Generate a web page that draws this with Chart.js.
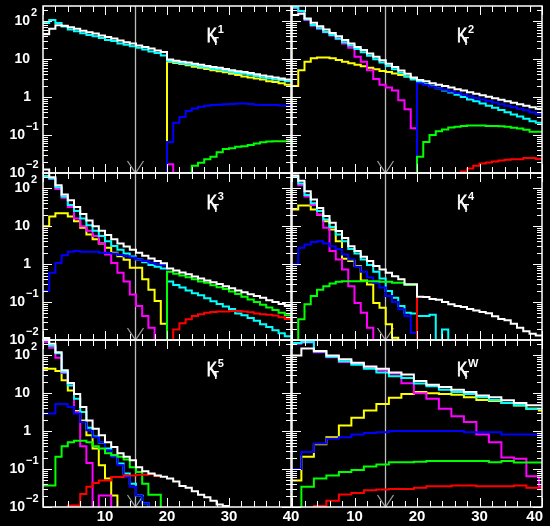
<!DOCTYPE html>
<html>
<head>
<meta charset="utf-8">
<script src="https://cdn.jsdelivr.net/npm/chart.js"></script>
<style>
  html, body { margin: 0; padding: 0; background: #000; }
  #wrap { position: relative; width: 550px; height: 526px; overflow: hidden; background: #000; }
  #wrap canvas { position: absolute; }
</style>
</head>
<body>
<div id="wrap"></div>
<script>
// bin left edges (1 unit wide) for panels 1-5, 2-unit bins for the last panel
const bins = [0,1,2,3,4,5,6,7,8,9,10,11,12,13,14,15,16,17,18,19,20,21,22,23,24,25,26,27,28,29,30,31,32,33,34,35,36,37,38,39];
const k6Edges = [0,1.5,3.5,5.5,7.5,9.5,11.5,13.5,15.5,17.5,19.5,21.5,23.5,25.5,27.5,29.5,31.5,33.5,35.5,37.5,39.5];
const xEnd = 40;

// K_T^1
const k1White = [45,63,78,76,69,63,56,51,47,42, 38,35,31,28,26,23,21,19,17,15.5, 9.8,9.1,8.5,8.1,7.6,7.1,6.6,6.2,5.9,5.5, 5.1,4.8,4.6,4.3,4.0,3.7,3.5,3.3,3.1,2.9];
const k1Cyan = [89,107,89,72,60,54,48,43,40,36, 32,30,26,24,22,20,18,16,14.5,12.5, 8.9,8.3,7.7,7.3,6.9,6.4,6.0,5.6,5.3,5.0, 4.6,4.3,4.1,3.9,3.6,3.3,3.1,2.9,2.8,2.6];
const k1Yellow = [0,0,0,0,0,0,0,0,0,0, 0,0,0,0,0,0,0,0,0,0, 8.5,7.9,7.4,6.9,6.3,5.9,5.5,5.1,4.8,4.5, 4.1,3.8,3.5,3.3,3.1,2.9,2.6,2.5,2.3,2.1];
const k1Magenta = [0,0,0,0,0,0,0,0,0,0, 0,0,0,0,0,0,0,0,0,0, 0.017,0,0,0,0,0,0,0,0,0, 0,0,0,0,0,0,0,0,0,0];
const k1Blue = [0,0,0,0,0,0,0,0,0,0, 0,0,0,0,0,0,0,0,0,0, 0.066,0.21,0.30,0.43,0.50,0.56,0.59,0.62,0.63,0.65, 0.66,0.68,0.68,0.66,0.63,0.62,0.62,0.62,0.60,0.59];
const k1Green = [0,0,0,0,0,0,0,0,0,0, 0,0,0,0,0,0,0,0,0,0, 0,0,0,0,0.0155,0.0186,0.023,0.027,0.035,0.043, 0.045,0.049,0.051,0.055,0.060,0.065,0.068,0.069,0.069,0.069];

// K_T^2
const k2White = [145,158,117,91,74,60,49,40,32,26, 21,17.4,14.1,11.5,9.3,7.6,6.2,5.0,4.1,3.3, 2.8,2.6,2.3,2.1,1.95,1.78,1.62,1.48,1.35,1.23, 1.12,1.02,0.93,0.85,0.78,0.71,0.65,0.59,0.54,0.49];
const k2Cyan = [229,186,112,79,65,52,43,35,28,23, 18.6,15.1,12.3,10,8.1,6.6,5.4,4.4,3.5,2.9, 2.5,2.2,1.95,1.7,1.48,1.32,1.15,1.0,0.87,0.78, 0.68,0.59,0.52,0.46,0.40,0.35,0.31,0.27,0.23,0.21];
const k2Yellow = [1.95,5.1,8.5,10.5,11,11,10.5,9.5,8.5,7.8, 7.1,6.5,5.9,5.4,4.9,4.6,4.2,3.8,3.5,3.2, 0,0,0,0,0,0,0,0,0,0, 0,0,0,0,0,0,0,0,0,0];
const k2Magenta = [225,180,108,76,63,51,42,34,26,20, 11.5,8.5,5.1,3.0,2.1,1.78,1.5,0.83,0.48,0.15, 0,0,0,0,0,0,0,0,0,0, 0,0,0,0,0,0,0,0,0,0];
const k2Blue = [0,0,0,0,0,0,0,0,0,0, 0,0,0,0,0,0,0,0,0,0, 2.3,2.1,1.9,1.7,1.55,1.41,1.29,1.17,1.05,0.95, 0.87,0.79,0.72,0.65,0.59,0.54,0.49,0.45,0.40,0.36];
const k2Green = [0,0,0,0,0,0,0,0,0,0, 0,0,0,0,0,0,0,0,0,0, 0.027,0.066,0.1,0.126,0.141,0.158,0.166,0.174,0.178,0.178, 0.178,0.174,0.174,0.17,0.166,0.155,0.148,0.138,0.123,0.123];
const k2Red = [0,0,0,0,0,0,0,0,0,0, 0,0,0,0,0,0,0,0,0,0, 0,0,0,0,0,0,0,0.011,0.0132,0.0155, 0.0178,0.019,0.02,0.0214,0.0224,0.0229,0.0229,0.025,0.025,0.0234];

// K_T^3
const k3White = [310,195,120,68,48,32,21,14.1,10,7.6, 5.8,4.5,3.5,2.9,2.4,2.0,1.66,1.41,1.2,1.05, 0.76,0.68,0.6,0.54,0.47,0.42,0.37,0.33,0.3,0.26, 0.23,0.2,0.18,0.16,0.145,0.129,0.112,0.1,0.089,0.079];
const k3Cyan = [210,180,105,60,36,25,15.8,10.5,7.6,5.5, 4.0,3.0,2.4,1.9,1.58,1.32,1.12,0.95,0.85,0.76, 0.35,0.28,0.24,0.2,0.17,0.15,0.126,0.105,0.089,0.076, 0.066,0.05,0.045,0.038,0.032,0.026,0.022,0.018,0.015,0.0126];
const k3Yellow = [10,18,22,22,18,13.5,9,6,4.5,3.5, 2.7,2.0,1.6,1.3,0.8,0.8,0.4,0.21,0.107,0.027, 0,0,0,0,0,0,0,0,0,0, 0,0,0,0,0,0,0,0,0,0];
const k3Magenta = [205,178,95,56,32,16,10,7.5,5.5,3.5, 1.78,1.07,0.59,0.35,0.158,0.079,0.043,0.021,0,0, 0,0,0,0,0,0,0,0,0,0, 0,0,0,0,0,0,0,0,0,0];
const k3Blue = [0.195,0.59,1.07,1.7,2.1,2.2,2.1,2.1,2.1,2.0, 1.95,1.9,1.74,1.62,1.48,1.32,1.2,1.1,1.0,0.93, 0,0,0,0,0,0,0,0,0,0, 0,0,0,0,0,0,0,0,0,0];
const k3Green = [0,0,0,0,0,0,0,0,0,0, 0,0,0,0,0,0,0,0,0,0, 0.63,0.56,0.5,0.45,0.4,0.35,0.32,0.275,0.245,0.22, 0.19,0.162,0.138,0.117,0.1,0.085,0.072,0.062,0.052,0.045];
const k3Red = [0,0,0,0,0,0,0,0,0,0, 0,0,0,0,0,0,0,0,0,0, 0,0.019,0.0275,0.035,0.043,0.048,0.052,0.055,0.056,0.056, 0.058,0.058,0.056,0.054,0.05,0.048,0.046,0.044,0.04,0.036];

// K_T^4
const k4White = [215,158,83,50,30,18.6,12.3,7.4,4.9,2.95, 2.2,1.55,1.2,0.89,0.72,0.59,0.48,0.4,0.295,0.295, 0.138,0.135,0.12,0.115,0.1,0.087,0.079,0.074,0.066,0.06, 0.055,0.051,0.042,0.036,0.033,0.027,0.021,0.017,0.0145,0.0132];
const k4Cyan = [205,132,66,40,25,15,9.5,6.0,4.0,2.5, 1.9,1.32,0.95,0.63,0.42,0.195,0.129,0.079,0.052,0.05, 0.043,0.043,0.046,0,0.019,0,0,0,0,0, 0,0,0,0,0,0,0,0,0,0];
const k4Yellow = [27.5,35,35,27.5,20,13.5,8.1,4.0,1.38,1.2, 0.89,0.37,0.29,0.095,0.071,0.026,0.0115,0,0,0, 0,0,0,0,0,0,0,0,0,0, 0,0,0,0,0,0,0,0,0,0];
const k4Magenta = [200,120,60,36,20,9.1,2.2,1.32,0.72,0.26, 0.095,0.052,0.021,0,0,0,0,0,0,0, 0,0,0,0,0,0,0,0,0,0, 0,0,0,0,0,0,0,0,0,0];
const k4Blue = [0.98,2.7,3.3,3.8,4.0,3.5,2.95,2.5,1.78,1.32, 0.85,0.63,0.44,0.32,0.24,0.145,0.1,0.065,0.043,0.0155, 0,0,0,0,0,0,0,0,0,0, 0,0,0,0,0,0,0,0,0,0];
const k4Green = [0,0.035,0.087,0.145,0.21,0.26,0.31,0.34,0.355,0.355, 0.355,0.355,0.355,0.355,0.34,0.34,0.32,0.32,0.28,0.28, 0,0,0,0,0,0,0,0,0,0, 0,0,0,0,0,0,0,0,0,0];
const k4Red = [0,0,0,0,0,0,0,0,0,0, 0,0,0,0,0,0,0,0,0,0, 0.138,0.135,0.12,0.115,0.1,0.087,0.079,0.074,0.066,0.06, 0.055,0.051,0.042,0.036,0.033,0.027,0.021,0.017,0.0145,0.0132];

// K_T^5
const k5White = [282,200,120,40,18.6,9.5,4.3,1.9,1.15,0.78, 0.51,0.38,0.26,0.21,0.17,0.112,0.087,0.076,0.068,0.063, 0.056,0.047,0.036,0.032,0.026,0.021,0.018,0.0145,0.0117,0.0107, 0,0,0,0,0,0,0,0,0,0];
const k5Cyan = [250,178,112,36,15.8,7.1,3.2,1.23,0.72,0.5, 0.35,0.23,0.141,0.076,0.041,0.02,0.0126,0,0,0, 0,0,0,0,0,0,0,0,0,0, 0,0,0,0,0,0,0,0,0,0];
const k5Yellow = [44,44,38,22,11.7,3.4,1.9,0.78,0.35,0.126, 0.056,0.02,0,0,0,0,0,0,0,0, 0,0,0,0,0,0,0,0,0,0, 0,0,0,0,0,0,0,0,0,0];
const k5Magenta = [224,158,85,34,17.8,3.2,0.4,0.145,0,0.02, 0.02,0,0,0,0,0,0,0,0,0, 0,0,0,0,0,0,0,0,0,0, 0,0,0,0,0,0,0,0,0,0];
const k5Blue = [2.9,2.9,5.2,5.2,4.3,2.9,1.74,1.05,0.69,0.51, 0.31,0.21,0.126,0.062,0.034,0.02,0.0126,0,0,0, 0,0,0,0,0,0,0,0,0,0, 0,0,0,0,0,0,0,0,0,0];
const k5Green = [0.037,0.037,0.21,0.4,0.51,0.56,0.56,0.51,0.4,0.35, 0.26,0.23,0.21,0.178,0.112,0.083,0.041,0.021,0.021,0, 0,0,0,0,0,0,0,0,0,0, 0,0,0,0,0,0,0,0,0,0];
const k5Red = [0,0,0,0,0.011,0.011,0.022,0.034,0.043,0.05, 0.05,0.062,0.062,0.068,0.068,0.071,0.071,0.074,0.066,0.063, 0.056,0.047,0.036,0.032,0.026,0.021,0.018,0.0145,0.0117,0.0107, 0,0,0,0,0,0,0,0,0,0];

// K_T^W (2-unit bins)
const k6White = [98,151,128,98,78,63,50,44,35,31,21,16.6,14.5,12.3,10.7,8.7,7.8,6.5,5.5,4.8,4.8];
const k6Cyan = [209,224,125,91,69,56,44,35,28,25,17.8,15.1,12.3,10.7,9.5,7.8,6.6,5.5,4.8,3.9,3.9];
const k6Yellow = [0.05,0.21,0.45,0.69,1.41,2.24,3.5,5.2,7.6,9.5,10.7,10,9.5,9.1,7.8,6.6,6.2,5.5,4.7,3.9,3.5];
const k6Magenta = [200,215,120,88,66,60,46,40,33,18.2,10,7.1,3.9,2.45,1.74,0.81,0.51,0.2,0.186,0.065,0.034];
const k6Blue = [0.1,0.28,0.47,0.63,0.69,0.81,0.89,0.93,1.0,1.0,1.0,1.0,1.0,1.0,0.93,0.93,0.93,0.81,0.81,0.81,0.81];
const k6Green = [0,0.034,0.056,0.068,0.083,0.095,0.117,0.132,0.151,0.151,0.155,0.162,0.162,0.162,0.162,0.162,0.151,0.162,0.148,0.148,0.148];
const k6Red = [0,0,0.0107,0.0145,0.0214,0.0234,0.0275,0.029,0.03,0.03,0.032,0.035,0.035,0.037,0.037,0.035,0.035,0.035,0.037,0.032,0.032];

// axes
const yBottom = 0.01;
const yTop = 251;
const yLabelValues = [100, 10, 1, 0.1, 0.01];
const yLabelBase = ['10', '10', '1', '10', '10'];
const yLabelExp = ['2', '', '', '\u22121', '\u22122'];
const xLabelValues = [10, 20, 30, 40];
const xTickValues = [0,2,4,6,8,10,12,14,16,18,20,22,24,26,28,30,32,34,36,38,40];
const cutX = 14.8;
const titleX = 26.4;

const colors = {
  white: '#ffffff', cyan: '#00ffff', yellow: '#ffff00', magenta: '#ff00ff',
  blue: '#0000ff', green: '#00ff00', red: '#ff0000'
};
// first entry ends up on top
const drawOrder = ['white', 'red', 'green', 'blue', 'cyan', 'magenta', 'yellow'];

const panels = [
  { title: '1', col: 0, row: 0, edges: bins,
    series: { white: k1White, cyan: k1Cyan, yellow: k1Yellow, magenta: k1Magenta, blue: k1Blue, green: k1Green } },
  { title: '2', col: 1, row: 0, edges: bins,
    series: { white: k2White, cyan: k2Cyan, yellow: k2Yellow, magenta: k2Magenta, blue: k2Blue, green: k2Green, red: k2Red } },
  { title: '3', col: 0, row: 1, edges: bins,
    series: { white: k3White, cyan: k3Cyan, yellow: k3Yellow, magenta: k3Magenta, blue: k3Blue, green: k3Green, red: k3Red } },
  { title: '4', col: 1, row: 1, edges: bins,
    series: { white: k4White, cyan: k4Cyan, yellow: k4Yellow, magenta: k4Magenta, blue: k4Blue, green: k4Green, red: k4Red } },
  { title: '5', col: 0, row: 2, edges: bins,
    series: { white: k5White, cyan: k5Cyan, yellow: k5Yellow, magenta: k5Magenta, blue: k5Blue, green: k5Green, red: k5Red } },
  { title: 'W', col: 1, row: 2, edges: k6Edges,
    series: { white: k6White, cyan: k6Cyan, yellow: k6Yellow, magenta: k6Magenta, blue: k6Blue, green: k6Green, red: k6Red } }
];

// page layout of the plot frames
const cols = [
  { left: 43, right: 291, canvasLeft: 0, canvasWidth: 310 },
  { left: 292, right: 542, canvasLeft: 284, canvasWidth: 266 }
];
const rows = [
  { top: 6, bottom: 173 },
  { top: 173, bottom: 340 },
  { top: 340, bottom: 507 }
];

const FONT = '"Liberation Sans", Arial, Helvetica, sans-serif';

function histPoints(edges, values) {
  // zero bins are pushed far below the axis so the steps drop out of the frame
  const pts = values.map((v, i) => ({ x: edges[i], y: v > 0 ? v : 1e-6 }));
  const last = values[values.length - 1];
  pts.push({ x: xEnd, y: last > 0 ? last : 1e-6 });
  return pts;
}

// where a coloured histogram runs exactly under the white total, leave it to the white line
function hiddenUnderWhite(values, white) {
  const n = values.length;
  const same = i => {
    const j = Math.min(i, n - 1);
    return values[j] > 0 && values[j] === white[j];
  };
  return s => same(s.p0DataIndex) && same(s.p1DataIndex);
}

function decorPlugin(p) {
  return {
    id: 'decor',
    beforeDatasetsDraw(chart) {
      const { ctx, chartArea: a } = chart;
      const xs = chart.scales.x;
      const cx = Math.round(xs.getPixelForValue(cutX)) + 0.5;
      ctx.save();
      ctx.strokeStyle = '#bdbdbd';
      ctx.lineWidth = 1.3;
      ctx.beginPath();
      ctx.moveTo(cx, a.top);
      ctx.lineTo(cx, a.bottom);
      ctx.stroke();
      ctx.strokeStyle = '#9a9a9a';
      ctx.beginPath();
      ctx.moveTo(cx - 8, a.bottom - 12);
      ctx.lineTo(cx, a.bottom);
      ctx.lineTo(cx + 8, a.bottom - 12);
      ctx.stroke();
      ctx.restore();
    },
    afterDatasetsDraw(chart) {
      const { ctx, chartArea: a } = chart;
      const xs = chart.scales.x, ys = chart.scales.y;
      ctx.save();

      // frame
      ctx.strokeStyle = '#ffffff';
      ctx.lineWidth = 1.5;
      ctx.strokeRect(a.left, a.top, a.right - a.left, a.bottom - a.top);

      // inward ticks
      ctx.lineWidth = 1;
      ctx.beginPath();
      xTickValues.forEach(t => {
        const px = Math.round(xs.getPixelForValue(t)) + 0.5;
        const len = t % 10 === 0 ? 9 : 6;
        ctx.moveTo(px, a.top); ctx.lineTo(px, a.top + len);
        ctx.moveTo(px, a.bottom); ctx.lineTo(px, a.bottom - len);
      });
      for (let d = -2; d <= 2; d++) {
        for (let m = 1; m <= 9; m++) {
          const v = m * Math.pow(10, d);
          if (v > yTop) break;
          const py = Math.round(ys.getPixelForValue(v)) + 0.5;
          const len = m === 1 ? 9 : 5;
          ctx.moveTo(a.left, py); ctx.lineTo(a.left + len, py);
          ctx.moveTo(a.right, py); ctx.lineTo(a.right - len, py);
        }
      }
      ctx.stroke();

      ctx.fillStyle = '#ffffff';

      // y labels on the left column
      if (p.col === 0) {
        ctx.textBaseline = 'middle';
        yLabelValues.forEach((v, i) => {
          const py = ys.getPixelForValue(v);
          const exp = yLabelExp[i];
          const right = exp === '' ? (yLabelBase[i] === '1' ? 31 : 30) : (exp.length > 1 ? 25 : 30);
          ctx.font = 'bold 14px ' + FONT;
          ctx.textAlign = 'right';
          ctx.fillText(yLabelBase[i], right, py);
          if (exp) {
            ctx.font = 'bold 11px ' + FONT;
            ctx.textAlign = 'left';
            ctx.fillText(exp, right + 1, py - 8);
          }
        });
      }

      // x labels on the bottom row
      if (p.row === 2) {
        ctx.font = 'bold 15px ' + FONT;
        ctx.textBaseline = 'middle';
        xLabelValues.forEach(t => {
          const px = xs.getPixelForValue(t);
          if (p.col === 1 && t === 40) {
            ctx.textAlign = 'right';
            ctx.fillText(String(t), a.right + 1, a.bottom + 10);
          } else {
            ctx.textAlign = 'center';
            ctx.fillText(String(t), px, a.bottom + 10);
          }
        });
      }

      // panel title K_T^n
      const tx = xs.getPixelForValue(titleX);
      const ty = a.top + 36;
      ctx.textAlign = 'left';
      ctx.textBaseline = 'alphabetic';
      ctx.save();
      ctx.translate(tx, ty);
      ctx.scale(0.72, 1);
      ctx.font = '21px ' + FONT;
      ctx.strokeStyle = '#ffffff';
      ctx.lineWidth = 0.8;
      ctx.fillText('K', 0, 0);
      ctx.strokeText('K', 0, 0);
      ctx.restore();
      ctx.font = 'bold 10px ' + FONT;
      ctx.fillText('T', tx + 6, ty + 3);
      ctx.font = 'bold 11px ' + FONT;
      ctx.fillText(p.title, tx + 11, ty - 9);

      ctx.restore();
    }
  };
}

const wrap = document.getElementById('wrap');

panels.forEach(p => {
  const c = cols[p.col], r = rows[p.row];
  const padTop = Math.min(12, r.top);
  const padBottom = p.row === 2 ? 19 : 6;
  const canvas = document.createElement('canvas');
  const h = (r.bottom - r.top) + padTop + padBottom;
  canvas.width = c.canvasWidth;
  canvas.height = h;
  canvas.style.width = c.canvasWidth + 'px';
  canvas.style.height = h + 'px';
  canvas.style.left = c.canvasLeft + 'px';
  canvas.style.top = (r.top - padTop) + 'px';
  wrap.appendChild(canvas);

  const datasets = drawOrder
    .filter(k => p.series[k])
    .map(k => {
      const values = p.series[k];
      const hide = k === 'white' ? (() => false) : hiddenUnderWhite(values, p.series.white);
      return {
        label: k,
        data: histPoints(p.edges, values),
        borderColor: colors[k],
        backgroundColor: colors[k],
        borderWidth: 2,
        pointRadius: 0,
        fill: false,
        stepped: true,
        tension: 0,
        clip: { left: 0, top: 10, right: 0, bottom: 0 },
        segment: { borderColor: s => hide(s) ? 'rgba(0,0,0,0)' : colors[k] }
      };
    });

  new Chart(canvas.getContext('2d'), {
    type: 'line',
    data: { datasets: datasets },
    options: {
      responsive: false,
      animation: false,
      devicePixelRatio: 1,
      events: [],
      layout: {
        padding: {
          left: c.left - c.canvasLeft,
          right: c.canvasLeft + c.canvasWidth - c.right,
          top: padTop,
          bottom: padBottom
        }
      },
      plugins: { legend: { display: false }, tooltip: { enabled: false } },
      scales: {
        x: { type: 'linear', min: 0, max: xEnd, display: false },
        y: { type: 'logarithmic', min: yBottom, max: yTop, display: false }
      }
    },
    plugins: [decorPlugin(p)]
  });
});
</script>
</body>
</html>
